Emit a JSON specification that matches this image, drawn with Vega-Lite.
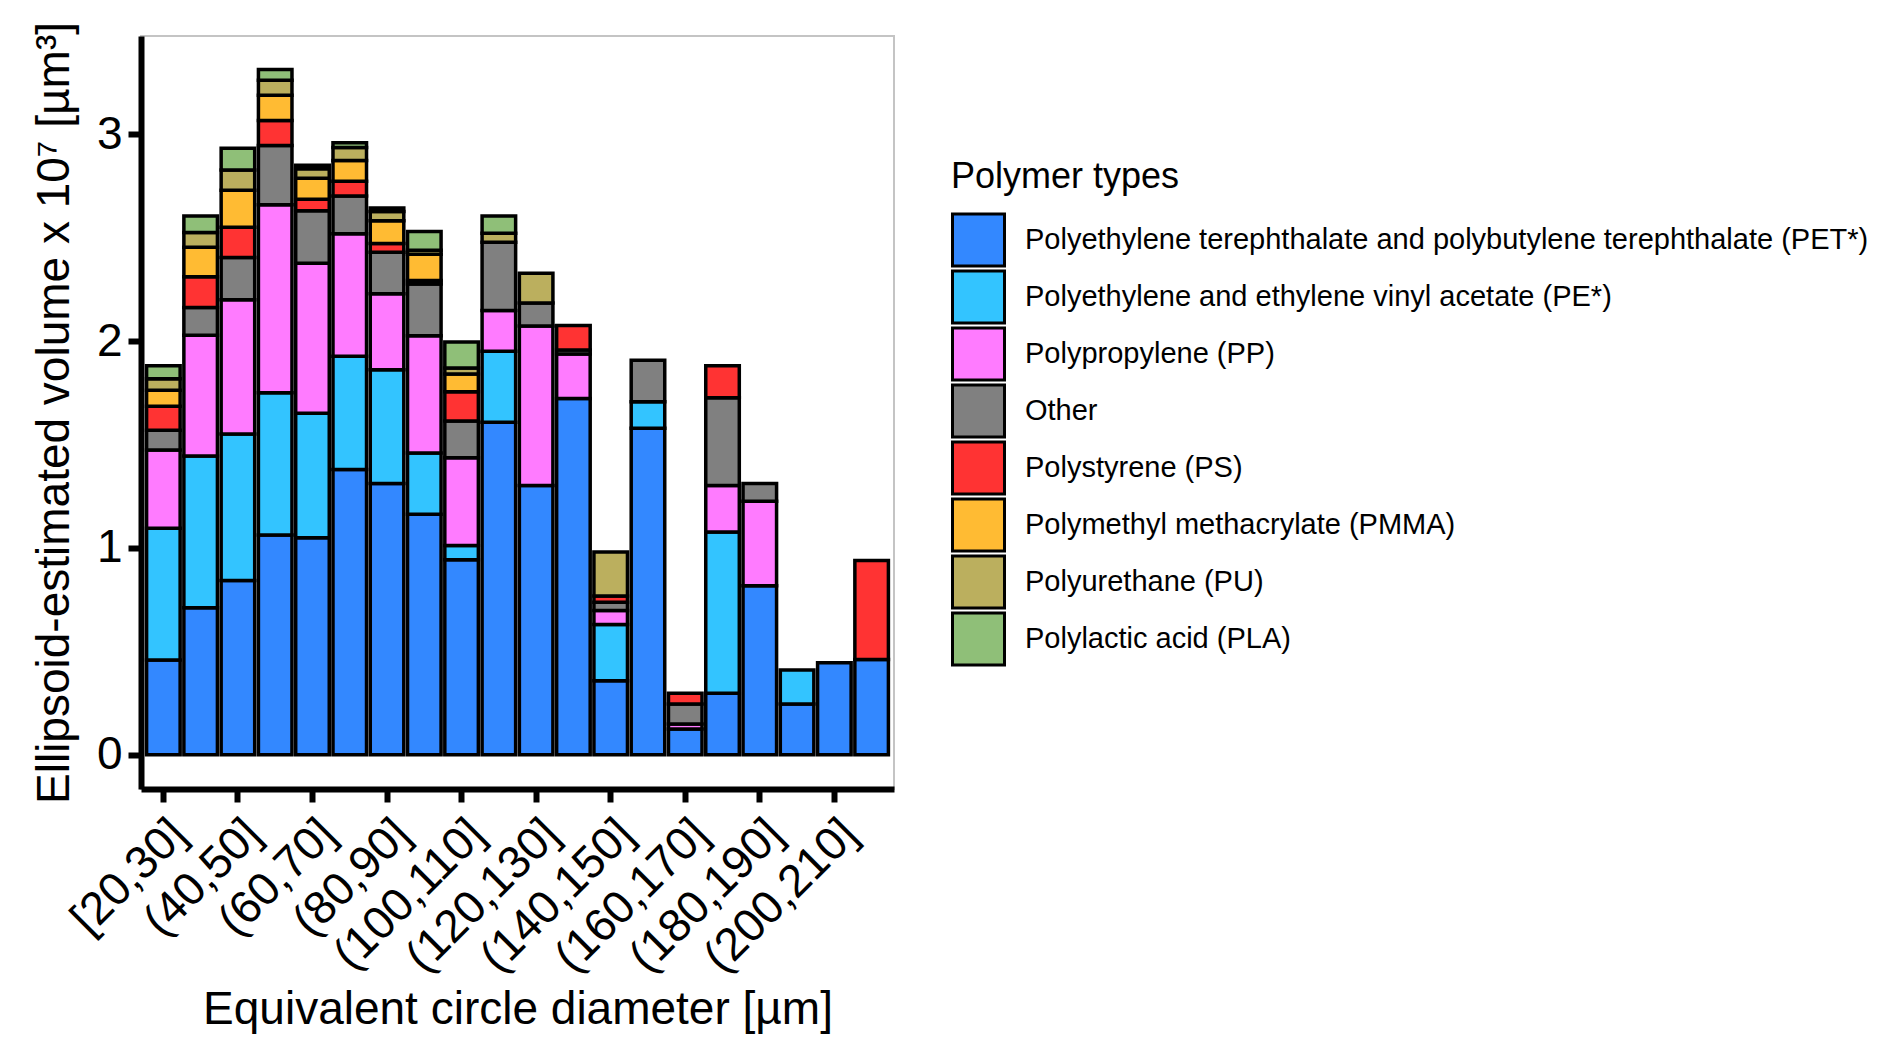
{
  "$schema": "https://vega.github.io/schema/vega-lite/v6.json",
  "description": "Ellipsoid-estimated volume by equivalent circle diameter and polymer type",
  "autosize": {"type": "none"},
  "width": 753,
  "height": 753,
  "padding": {"left": 141, "top": 36, "right": 998, "bottom": 263},
  "background": "white",
  "config": {
    "font": "Liberation Sans",
    "view": {"stroke": "#c4c4c4", "strokeWidth": 2}
  },
  "data": {
    "values": [
      {"bin": "[20,30]", "PET": 0.458, "PE": 0.638, "PP": 0.378, "Other": 0.096, "PS": 0.115, "PMMA": 0.078, "PU": 0.055, "PLA": 0.063},
      {"bin": "(30,40]", "PET": 0.711, "PE": 0.734, "PP": 0.584, "Other": 0.134, "PS": 0.149, "PMMA": 0.143, "PU": 0.071, "PLA": 0.080},
      {"bin": "(40,50]", "PET": 0.843, "PE": 0.708, "PP": 0.650, "Other": 0.204, "PS": 0.146, "PMMA": 0.179, "PU": 0.098, "PLA": 0.105},
      {"bin": "(50,60]", "PET": 1.063, "PE": 0.688, "PP": 0.909, "Other": 0.286, "PS": 0.121, "PMMA": 0.122, "PU": 0.073, "PLA": 0.052},
      {"bin": "(60,70]", "PET": 1.050, "PE": 0.602, "PP": 0.725, "Other": 0.254, "PS": 0.055, "PMMA": 0.102, "PU": 0.046, "PLA": 0.017},
      {"bin": "(70,80]", "PET": 1.379, "PE": 0.548, "PP": 0.593, "Other": 0.182, "PS": 0.072, "PMMA": 0.100, "PU": 0.063, "PLA": 0.023},
      {"bin": "(80,90]", "PET": 1.312, "PE": 0.550, "PP": 0.367, "Other": 0.201, "PS": 0.042, "PMMA": 0.111, "PU": 0.044, "PLA": 0.017},
      {"bin": "(90,100]", "PET": 1.163, "PE": 0.296, "PP": 0.568, "Other": 0.250, "PS": 0.016, "PMMA": 0.128, "PU": 0.019, "PLA": 0.090},
      {"bin": "(100,110]", "PET": 0.943, "PE": 0.069, "PP": 0.424, "Other": 0.178, "PS": 0.141, "PMMA": 0.086, "PU": 0.029, "PLA": 0.126},
      {"bin": "(110,120]", "PET": 1.608, "PE": 0.344, "PP": 0.197, "Other": 0.329, "PS": 0, "PMMA": 0, "PU": 0.044, "PLA": 0.084},
      {"bin": "(120,130]", "PET": 1.302, "PE": 0, "PP": 0.771, "Other": 0.112, "PS": 0, "PMMA": 0, "PU": 0.144, "PLA": 0},
      {"bin": "(130,140]", "PET": 1.723, "PE": 0, "PP": 0.215, "Other": 0.020, "PS": 0.118, "PMMA": 0, "PU": 0, "PLA": 0},
      {"bin": "(140,150]", "PET": 0.358, "PE": 0.272, "PP": 0.068, "Other": 0.040, "PS": 0.030, "PMMA": 0, "PU": 0.213, "PLA": 0},
      {"bin": "(150,160]", "PET": 1.579, "PE": 0.128, "PP": 0, "Other": 0.201, "PS": 0, "PMMA": 0, "PU": 0, "PLA": 0},
      {"bin": "(160,170]", "PET": 0.125, "PE": 0, "PP": 0.024, "Other": 0.097, "PS": 0.051, "PMMA": 0, "PU": 0, "PLA": 0},
      {"bin": "(170,180]", "PET": 0.297, "PE": 0.780, "PP": 0.225, "Other": 0.425, "PS": 0.154, "PMMA": 0, "PU": 0, "PLA": 0},
      {"bin": "(180,190]", "PET": 0.817, "PE": 0, "PP": 0.409, "Other": 0.086, "PS": 0, "PMMA": 0, "PU": 0, "PLA": 0},
      {"bin": "(190,200]", "PET": 0.246, "PE": 0.164, "PP": 0, "Other": 0, "PS": 0, "PMMA": 0, "PU": 0, "PLA": 0},
      {"bin": "(200,210]", "PET": 0.445, "PE": 0, "PP": 0, "Other": 0, "PS": 0, "PMMA": 0, "PU": 0, "PLA": 0},
      {"bin": "(210,220]", "PET": 0.461, "PE": 0, "PP": 0, "Other": 0, "PS": 0.478, "PMMA": 0, "PU": 0, "PLA": 0}
    ]
  },
  "transform": [
    {"fold": ["PET", "PE", "PP", "Other", "PS", "PMMA", "PU", "PLA"], "as": ["polymer", "volume"]},
    {"filter": "datum.volume > 0"},
    {"calculate": "indexof(['PET','PE','PP','Other','PS','PMMA','PU','PLA'], datum.polymer)", "as": "level"}
  ],
  "mark": {"type": "bar", "stroke": "black", "strokeWidth": 3.5},
  "encoding": {
    "x": {
      "field": "bin",
      "type": "ordinal",
      "sort": ["[20,30]", "(30,40]", "(40,50]", "(50,60]", "(60,70]", "(70,80]", "(80,90]", "(90,100]", "(100,110]", "(110,120]", "(120,130]", "(130,140]", "(140,150]", "(150,160]", "(160,170]", "(170,180]", "(180,190]", "(190,200]", "(200,210]", "(210,220]"],
      "scale": {"paddingInner": 0.1, "paddingOuter": 0.15},
      "axis": {
        "values": ["[20,30]", "(40,50]", "(60,70]", "(80,90]", "(100,110]", "(120,130]", "(140,150]", "(160,170]", "(180,190]", "(200,210]"],
        "title": "Equivalent circle diameter [µm]",
        "labelAngle": -45,
        "labelAlign": "right",
        "labelBaseline": "top",
        "labelFontSize": 46,
        "labelColor": "black",
        "labelLimit": 0,
        "labelPadding": 9,
        "labelOverlap": false,
        "titleFontSize": 46,
        "titleFontWeight": "normal",
        "titleColor": "black",
        "titlePadding": 7,
        "tickSize": 13,
        "tickWidth": 6,
        "tickColor": "black",
        "domainWidth": 6,
        "domainColor": "black"
      }
    },
    "y": {
      "field": "volume",
      "type": "quantitative",
      "stack": "zero",
      "scale": {"domain": [-0.1655, 3.476], "nice": false, "zero": false},
      "axis": {
        "values": [0, 1, 2, 3],
        "grid": false,
        "title": "Ellipsoid-estimated volume x 10⁷ [µm³]",
        "labelFontSize": 46,
        "labelColor": "black",
        "labelPadding": 6,
        "titleFontSize": 46,
        "titleFontWeight": "normal",
        "titleColor": "black",
        "titlePadding": 18,
        "titleLimit": 0,
        "tickSize": 13,
        "tickWidth": 6,
        "tickColor": "black",
        "domainWidth": 6,
        "domainColor": "black"
      }
    },
    "color": {
      "field": "polymer",
      "type": "nominal",
      "scale": {
        "domain": ["PET", "PE", "PP", "Other", "PS", "PMMA", "PU", "PLA"],
        "range": ["#3388ff", "#33c4ff", "#ff7bff", "#808080", "#ff3333", "#ffbb33", "#bbaf5e", "#8fbf78"]
      },
      "legend": {
        "orient": "none",
        "legendX": 810,
        "legendY": 124,
        "padding": 0,
        "title": "Polymer types",
        "titleFontSize": 36,
        "titleFontWeight": "normal",
        "titleColor": "black",
        "titleLimit": 0,
        "titlePadding": 16,
        "labelFontSize": 29,
        "labelColor": "black",
        "labelLimit": 0,
        "labelOffset": 19,
        "symbolType": "square",
        "symbolSize": 2704,
        "symbolStrokeColor": "black",
        "symbolStrokeWidth": 3,
        "symbolOpacity": 1,
        "clipHeight": 56,
        "rowPadding": 1,
        "labelExpr": "datum.label == 'PET' ? 'Polyethylene terephthalate and polybutylene terephthalate (PET*)' : datum.label == 'PE' ? 'Polyethylene and ethylene vinyl acetate (PE*)' : datum.label == 'PP' ? 'Polypropylene (PP)' : datum.label == 'PS' ? 'Polystyrene (PS)' : datum.label == 'PMMA' ? 'Polymethyl methacrylate (PMMA)' : datum.label == 'PU' ? 'Polyurethane (PU)' : datum.label == 'PLA' ? 'Polylactic acid (PLA)' : datum.label"
      }
    },
    "order": {"field": "level", "type": "quantitative", "sort": "ascending"}
  }
}
